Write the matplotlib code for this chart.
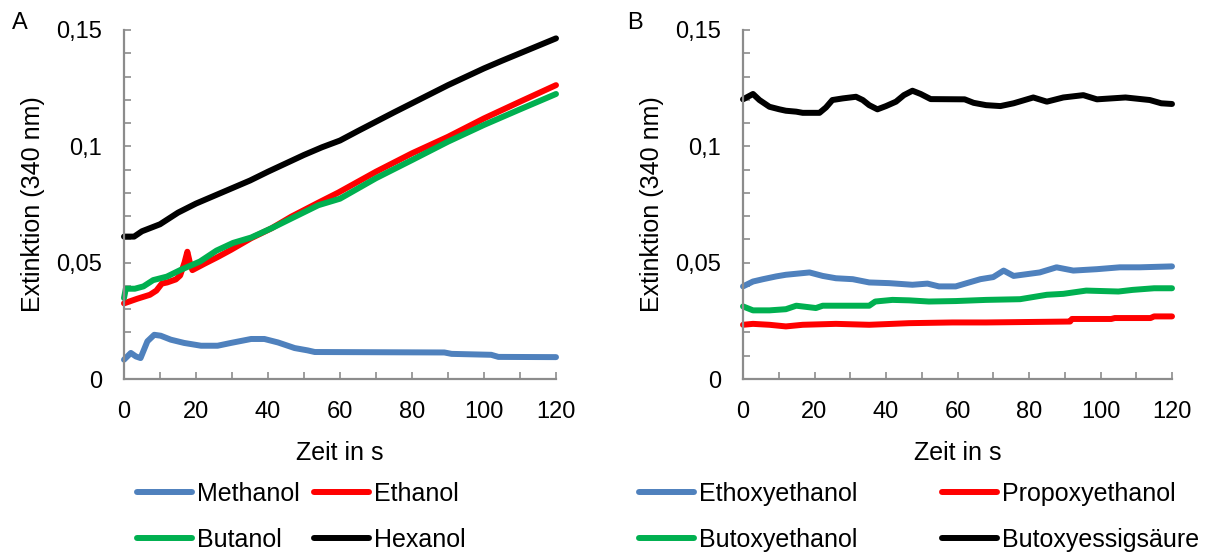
import matplotlib
matplotlib.use("Agg")
import matplotlib.pyplot as plt
from matplotlib.ticker import MultipleLocator, FuncFormatter

plt.rcParams['font.family'] = ['Liberation Sans', 'DejaVu Sans']

# ---------------- Data (panel A) ----------------
t_methanol = [0, 1.9, 3.3, 4.6, 6.5, 8.4, 10.2, 13, 16.7, 21.4, 26, 29.7, 35.3, 39,
              42.8, 47.4, 51, 53, 89, 91, 102, 104, 120]
v_methanol = [0.0083, 0.0112, 0.0097, 0.0090, 0.0162, 0.0190, 0.0186, 0.0169, 0.0155,
              0.0143, 0.0143, 0.0155, 0.0172, 0.0172, 0.0157, 0.0133, 0.0123, 0.0116,
              0.0114, 0.0108, 0.0104, 0.0095, 0.0094]

t_ethanol = [0, 3.7, 7.2, 9, 10.5, 12, 14.4, 15.6, 16.8, 17.6, 18.3, 19, 22.3, 26,
             29.7, 35.3, 41, 46.5, 54, 59.5, 70, 80, 90, 100, 110, 120]
v_ethanol = [0.0325, 0.0345, 0.0362, 0.0380, 0.0410, 0.0415, 0.0428, 0.0445, 0.0500,
             0.0547, 0.0500, 0.0468, 0.0495, 0.0524, 0.0555, 0.0605, 0.0648, 0.0698,
             0.0758, 0.0801, 0.0891, 0.0970, 0.1041, 0.1120, 0.1192, 0.1263]

t_butanol = [0, 0.5, 3, 5.4, 8.1, 11.9, 15.6, 21.1, 25.7, 30.3, 35.3, 41, 46.5, 54,
             60, 70, 80, 90, 100, 110, 120]
v_butanol = [0.0348, 0.0388, 0.0388, 0.0398, 0.0425, 0.0440, 0.0468, 0.0505, 0.0552,
             0.0585, 0.0608, 0.0648, 0.0690, 0.0747, 0.0775, 0.0863, 0.0941, 0.1020,
             0.1092, 0.1159, 0.1225]

t_hexanol = [0, 2.8, 5, 10, 15, 20, 25, 30, 35, 40, 45, 50, 55, 60, 65, 70, 75, 80,
             85, 90, 95, 100, 105, 110, 115, 120]
v_hexanol = [0.0612, 0.0612, 0.0635, 0.0665, 0.0715, 0.0754, 0.0787, 0.0820, 0.0853,
             0.0891, 0.0927, 0.0963, 0.0996, 0.1025, 0.1066, 0.1106, 0.1146, 0.1185,
             0.1224, 0.1263, 0.1299, 0.1335, 0.1368, 0.1400, 0.1432, 0.1464]

# ---------------- Data (panel B) ----------------
t_ethoxy = [0, 2.8, 5.6, 9.3, 12, 18.6, 22.3, 26, 30.7, 35.3, 40.9, 47.4, 51.6, 54.8,
            59.5, 62.6, 66.4, 70, 72.9, 75.7, 83, 87.7, 92.4, 99, 105.4, 111, 120]
v_ethoxy = [0.0398, 0.0419, 0.0429, 0.0441, 0.0448, 0.0458, 0.0443, 0.0433, 0.0429,
            0.0415, 0.0412, 0.0405, 0.0410, 0.0398, 0.0398, 0.0412, 0.0429, 0.0438,
            0.0466, 0.0443, 0.0458, 0.0480, 0.0466, 0.0472, 0.0480, 0.0480, 0.0484]

t_propoxy = [0, 2.8, 7.4, 12, 16.7, 26, 35.3, 41.8, 46.5, 58.6, 68, 91.5, 92, 103,
             104, 114, 115, 120]
v_propoxy = [0.0233, 0.0237, 0.0233, 0.0226, 0.0233, 0.0237, 0.0233, 0.0237, 0.0240,
             0.0243, 0.0243, 0.0247, 0.0258, 0.0258, 0.0262, 0.0262, 0.0269, 0.0269]

t_butoxy = [0, 2.8, 7.4, 12, 14.9, 20.4, 22.3, 35.3, 37, 41.8, 46.5, 52, 59.5, 68,
            77.5, 85, 89.6, 96, 105, 109, 115, 120]
v_butoxy = [0.0312, 0.0295, 0.0295, 0.0300, 0.0315, 0.0305, 0.0315, 0.0315, 0.0333,
            0.0340, 0.0338, 0.0333, 0.0335, 0.0340, 0.0343, 0.0362, 0.0366, 0.0380,
            0.0376, 0.0383, 0.0390, 0.0390]

t_butoxyacid = [0, 2.8, 4.6, 7.4, 10.2, 12, 14.9, 16.7, 21.4, 23.2, 25, 27.9, 31.6,
                33.5, 35.3, 37.6, 40, 42.8, 45, 47.4, 49.7, 52.5, 62, 64.5, 68, 72,
                75.7, 81.2, 85, 89.6, 95.2, 99, 107, 113.8, 117, 120]
v_butoxyacid = [0.1202, 0.1225, 0.1199, 0.1170, 0.1159, 0.1153, 0.1149, 0.1144,
                0.1144, 0.1167, 0.1199, 0.1206, 0.1213, 0.1199, 0.1177, 0.1159,
                0.1173, 0.1192, 0.1220, 0.1239, 0.1225, 0.1203, 0.1202, 0.1187,
                0.1177, 0.1173, 0.1185, 0.1210, 0.1192, 0.1210, 0.1220, 0.1202,
                0.1210, 0.1199, 0.1185, 0.1182]

labels_A = ["Methanol", "Ethanol", "Butanol", "Hexanol"]
labels_B = ["Ethoxyethanol", "Propoxyethanol", "Butoxyethanol", "Butoxyessigsäure"]
colors = ["#4F81BD", "#FF0000", "#00B050", "#000000"]

y_ticklabels = {0.0: "0", 0.05: "0,05", 0.1: "0,1", 0.15: "0,15"}

# ---------------- Figure ----------------
W, H = 1220, 553
fig = plt.figure(figsize=(W / 100, H / 100), dpi=100)

def px_axes(l, t, r, b):
    return [l / W, 1 - b / H, (r - l) / W, (b - t) / H]

axA = fig.add_axes(px_axes(124, 30, 556, 379))
axB = fig.add_axes(px_axes(743, 30, 1172, 379))

seriesA = [(t_methanol, v_methanol), (t_ethanol, v_ethanol),
           (t_butanol, v_butanol), (t_hexanol, v_hexanol)]
seriesB = [(t_ethoxy, v_ethoxy), (t_propoxy, v_propoxy),
           (t_butoxy, v_butoxy), (t_butoxyacid, v_butoxyacid)]

spine_col = "#8C8C8C"
LW = 4.3

def fmt(v, pos):
    for k, s in y_ticklabels.items():
        if abs(v - k) < 1e-9:
            return s
    return ""

for ax, series, labels in [(axA, seriesA, labels_A), (axB, seriesB, labels_B)]:
    handles = []
    for (t, v), c, lab in zip(series, colors, labels):
        h, = ax.plot(t, v, color=c, lw=LW, solid_capstyle="round",
                     solid_joinstyle="round", clip_on=False, label=lab)
        handles.append(h)
    ax.set_xlim(0, 120)
    ax.set_ylim(0, 0.15)
    for s in ["top", "right"]:
        ax.spines[s].set_visible(False)
    for s in ["left", "bottom"]:
        ax.spines[s].set_color(spine_col)
        ax.spines[s].set_linewidth(1.6)
    ax.xaxis.set_major_locator(MultipleLocator(20))
    ax.xaxis.set_minor_locator(MultipleLocator(10))
    ax.yaxis.set_major_locator(MultipleLocator(0.05))
    ax.yaxis.set_minor_locator(MultipleLocator(0.01))
    ax.yaxis.set_major_formatter(FuncFormatter(fmt))
    ax.tick_params(which="both", direction="in", length=5, width=1.2,
                   color=spine_col, labelsize=17, pad=16, labelcolor="black")
    ax.set_xlabel("Zeit in s", fontsize=18, labelpad=13)
    ax.set_ylabel("Extinktion (340 nm)", fontsize=18, labelpad=8)
    ax._handles = handles

# legends (row-wise order: col1 = items 0,2 ; col2 = items 1,3)
hA = axA._handles
legA = fig.legend([hA[0], hA[2], hA[1], hA[3]],
                  [labels_A[0], labels_A[2], labels_A[1], labels_A[3]],
                  ncol=2, loc="upper left", bbox_to_anchor=(137 / W, 1 - 482 / H),
                  frameon=False, fontsize=18, handlelength=2.2, handletextpad=0.2,
                  columnspacing=0.55, labelspacing=0.87, borderpad=0, borderaxespad=0)
hB = axB._handles
legB = fig.legend([hB[0], hB[2], hB[1], hB[3]],
                  [labels_B[0], labels_B[2], labels_B[1], labels_B[3]],
                  ncol=2, loc="upper left", bbox_to_anchor=(639 / W, 1 - 482 / H),
                  frameon=False, fontsize=18, handlelength=2.2, handletextpad=0.2,
                  columnspacing=3.4, labelspacing=0.87, borderpad=0, borderaxespad=0)
for leg in (legA, legB):
    for line in leg.get_lines():
        line.set_linewidth(LW)
        line.set_solid_capstyle("round")

fig.text(12 / W, 1 - 29 / H, "A", fontsize=17, ha="left", va="baseline")
fig.text(627 / W, 1 - 29 / H, "B", fontsize=17, ha="left", va="baseline")

fig.savefig("out.png", dpi=100)
